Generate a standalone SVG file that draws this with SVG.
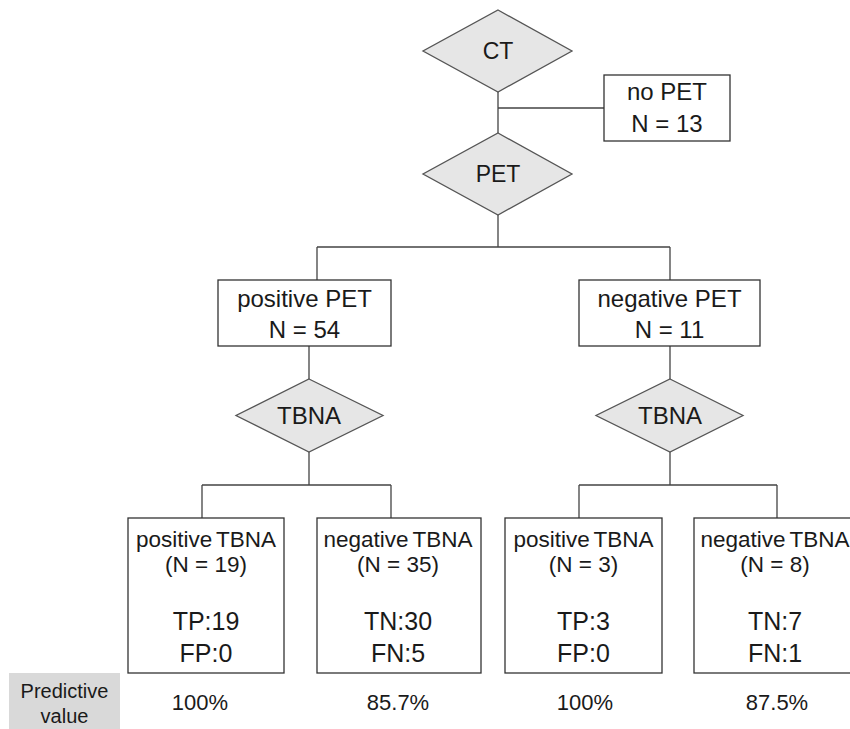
<svg xmlns="http://www.w3.org/2000/svg" width="850" height="729" viewBox="0 0 850 729">
<style>
text{font-family:"Liberation Sans",Arial,sans-serif;fill:#1a1a1a;text-anchor:middle}
.dia{fill:#e6e6e6;stroke:#555;stroke-width:1.3}
.box{fill:#fff;stroke:#333;stroke-width:1.3}
.con{fill:none;stroke:#444;stroke-width:1.3}
.dl{font-size:23px}
.bl{font-size:24px}
.sm{font-size:22.5px}
.ws{word-spacing:-2px}
.bg{font-size:25px}
.pct{font-size:22px}
.pv{font-size:20px}
</style>
<rect width="850" height="729" fill="#fff"/>
<g id="connectors">
<path class="con" d="M498,92 V133 M498,108 H604"/>
<path class="con" d="M498,215 V247 M317,247 H670 M317,247 V280 M670,247 V280"/>
<path class="con" d="M309,346 V379 M309,452 V485 M202,485 H391 M202,485 V518 M391,485 V518"/>
<path class="con" d="M670,346 V379 M670,452 V485 M579,485 H777 M579,485 V518 M777,485 V518"/>
</g>
<g id="ct"><polygon class="dia" points="498,10 572,51 498,92 423,51"/><text class="dl" x="498" y="59">CT</text></g>
<g id="nopet"><rect class="box" x="604" y="75" width="126" height="66"/><text class="bl" x="667" y="100">no PET</text><text class="bl" x="667" y="132">N = 13</text></g>
<g id="pet"><polygon class="dia" points="498,133 572,174 498,215 423,174"/><text class="dl" x="498" y="182">PET</text></g>
<g id="pospet"><rect class="box" x="218" y="280" width="173" height="66"/><text class="bl" x="304.5" y="307">positive PET</text><text class="bl" x="304.5" y="338">N = 54</text></g>
<g id="negpet"><rect class="box" x="579" y="280" width="181" height="66"/><text class="bl" x="669.5" y="307">negative PET</text><text class="bl" x="669.5" y="338">N = 11</text></g>
<g id="tbna1"><polygon class="dia" points="309,379 383,415.5 309,452 236,415.5"/><text class="bl" x="309" y="424">TBNA</text></g>
<g id="tbna2"><polygon class="dia" points="670,379 743,415.5 670,452 596,415.5"/><text class="bl" x="670" y="424">TBNA</text></g>
<g id="postbna1"><rect class="box" x="128" y="518" width="156" height="155"/><text class="sm ws" x="206" y="547">positive TBNA</text><text class="sm" x="206" y="572">(N = 19)</text><text class="bg" x="206" y="630">TP:19</text><text class="bg" x="206" y="662">FP:0</text></g>
<g id="negtbna1"><rect class="box" x="317" y="518" width="164" height="155"/><text class="sm ws" x="398" y="547">negative TBNA</text><text class="sm" x="398" y="572">(N = 35)</text><text class="bg" x="398" y="630">TN:30</text><text class="bg" x="398" y="662">FN:5</text></g>
<g id="postbna2"><rect class="box" x="505" y="518" width="157" height="155"/><text class="sm ws" x="583.5" y="547">positive TBNA</text><text class="sm" x="583.5" y="572">(N = 3)</text><text class="bg" x="583.5" y="630">TP:3</text><text class="bg" x="583.5" y="662">FP:0</text></g>
<g id="negtbna2"><rect class="box" x="694" y="518" width="162" height="155"/><text class="sm ws" x="775" y="547">negative TBNA</text><text class="sm" x="775" y="572">(N = 8)</text><text class="bg" x="775" y="630">TN:7</text><text class="bg" x="775" y="662">FN:1</text></g>
<g id="pv"><rect x="9" y="673" width="111" height="56" fill="#d9d9d9"/><text class="pv" x="64.5" y="698">Predictive</text><text class="pv" x="64.5" y="723">value</text></g>
<g id="pcts"><text class="pct" x="200" y="710">100%</text><text class="pct" x="398" y="710">85.7%</text><text class="pct" x="585" y="710">100%</text><text class="pct" x="777" y="710">87.5%</text></g>
</svg>
